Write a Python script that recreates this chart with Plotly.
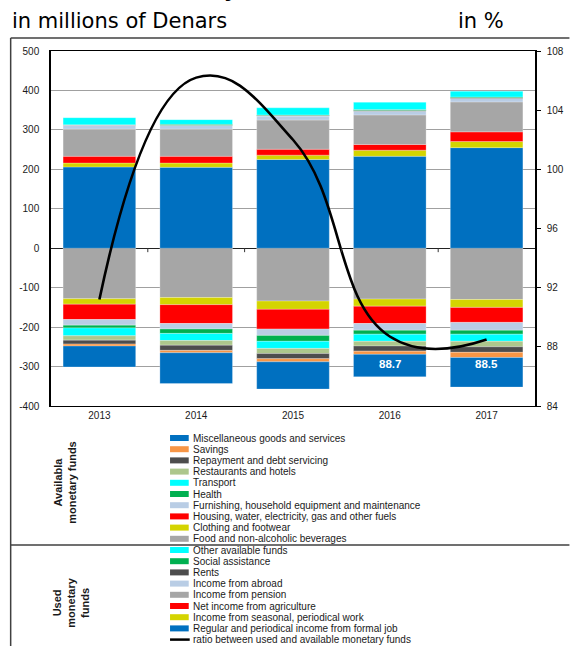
import plotly.graph_objects as go

W, H = 576, 646
ML, MR, MT, MB = 51, 33, 51, 240

years = [2013, 2014, 2015, 2016, 2017]

# Used monetary funds (drawn below zero), in millions of Denars
food = [-128, -125, -134, -129, -130]
clothing = [-14, -18, -21, -18, -20]
housing = [-39, -48, -50, -44, -38]
furnishing = [-14, -14, -16, -17, -20]
health = [-7, -11, -15, -10, -10]
transport = [-20, -18, -18, -18, -18]
restaurants = [-11, -12, -13, -12, -14]
repayment = [-10, -13, -13, -13, -14]
savings = [-5, -6, -8, -8, -13]
misc = [-53, -78, -69, -57, -75]

# Available monetary funds (drawn above zero), in millions of Denars
regular = [206, 205, 225, 233, 255]
seasonal = [10, 11, 11, 15.5, 15.5]
agriculture = [17, 17, 15, 14.5, 24.5]
pension = [69, 69, 74, 75, 76]
abroad = [10, 9, 10, 9, 8.5]
rents = [0.5, 1, 1.5, 2, 2]
social = [0.5, 2, 1.5, 2.5, 2]
other = [18, 12, 18, 18.5, 14.5]

# Ratio between used and available monetary funds, in %
ratio = [91.2, 106.2, 102.0, 88.7, 88.5]
labelled_years = [2016, 2017]

# axis ticks
left_ticks = [500, 400, 300, 200, 100, 0, -100, -200, -300, -400]
right_ticks = [108, 104, 100, 96, 92, 88, 84]

# stacking order: first entry sits next to the zero line
neg_series = [
    ("Food and non-alcoholic beverages", food, "#A6A6A6"),
    ("Clothing and footwear", clothing, "#D4D400"),
    ("Housing, water, electricity, gas and other fuels", housing, "#FF0000"),
    ("Furnishing, household equipment and maintenance", furnishing, "#B9CDE5"),
    ("Health", health, "#00B050"),
    ("Transport", transport, "#00FFFF"),
    ("Restaurants and hotels", restaurants, "#ADC78C"),
    ("Repayment and debt servicing", repayment, "#4D4D4D"),
    ("Savings", savings, "#F79646"),
    ("Miscellaneous goods and services", misc, "#0070C0"),
]
pos_series = [
    ("Regular and periodical income from formal job", regular, "#0070C0"),
    ("Income from seasonal, periodical work", seasonal, "#D4D400"),
    ("Net income from agriculture", agriculture, "#FF0000"),
    ("Income from pension", pension, "#A6A6A6"),
    ("Income from abroad", abroad, "#B9CDE5"),
    ("Rents", rents, "#4D4D4D"),
    ("Social assistance", social, "#00B050"),
    ("Other available funds", other, "#00FFFF"),
]
ratio_name = "ratio between used and available monetary funds"

FONT = "Liberation Sans, Arial, sans-serif"
TXT = "#1a1a1a"

fig = go.Figure()
for name, vals, col in neg_series + pos_series:
    fig.add_trace(go.Bar(
        x=years, y=vals, name=name, marker_color=col,
        marker_line=dict(color="rgba(255,255,255,0.5)", width=0.5),
        showlegend=False,
    ))

fig.add_trace(go.Scatter(
    x=years, y=ratio, name=ratio_name, yaxis="y2", mode="lines",
    line=dict(color="black", width=2.6, shape="spline", smoothing=1.3),
    showlegend=False,
))


def px_x(px):
    return (px - ML) / (W - ML - MR)


def px_y(py):
    return (H - MB - py) / (H - MT - MB)


shapes = []
annotations = []

# ratio labels inside the lower bars
for yr in labelled_years:
    annotations.append(dict(
        x=yr, y=-293, xref="x", yref="y", text=f"{ratio[years.index(yr)]:.1f}",
        showarrow=False, font=dict(family=FONT, size=11.5, color="white", weight="bold"),
    ))

# small category separators on the zero line
for k in range(len(years) - 1):
    xm = (years[k] + years[k + 1]) / 2
    shapes.append(dict(type="line", xref="x", yref="y", x0=xm, x1=xm, y0=0, y1=-10,
                       line=dict(color="#333333", width=1)))

# header texts
annotations += [
    dict(x=px_x(7), y=px_y(3), xref="paper", yref="paper", xanchor="left", yanchor="bottom",
         text="Available monetary funds", showarrow=False,
         font=dict(family=FONT, size=25, color="black", weight="bold")),
    dict(x=px_x(9), y=px_y(21), xref="paper", yref="paper", xanchor="left", yanchor="middle",
         text="in millions of Denars", showarrow=False,
         font=dict(family="DejaVu Sans", size=21, color="black")),
    dict(x=px_x(514), y=px_y(21), xref="paper", yref="paper", xanchor="right", yanchor="middle",
         text="in %", showarrow=False,
         font=dict(family="DejaVu Sans", size=21, color="black")),
]

# outer frame lines
frame = dict(color="#404040", width=1.5)
shapes += [
    dict(type="line", xref="paper", yref="paper", x0=px_x(10), x1=px_x(10),
         y0=px_y(38), y1=px_y(H + 2), line=frame),
    dict(type="line", xref="paper", yref="paper", x0=px_x(10), x1=px_x(W + 2),
         y0=px_y(38), y1=px_y(38), line=frame),
    dict(type="line", xref="paper", yref="paper", x0=px_x(10), x1=px_x(W + 2),
         y0=px_y(545), y1=px_y(545), line=frame),
]

# hand-built legend
legend_items = [(n, c) for n, _, c in reversed(neg_series)] + \
               [(n, c) for n, _, c in reversed(pos_series)]
y0, step = 438, 11.2
for i, (name, col) in enumerate(legend_items):
    yc = y0 + i * step
    shapes.append(dict(type="rect", xref="paper", yref="paper",
                       x0=px_x(172), x1=px_x(191), y0=px_y(yc - 3), y1=px_y(yc + 3),
                       fillcolor=col, line=dict(width=0)))
    annotations.append(dict(x=px_x(193), y=px_y(yc), xref="paper", yref="paper",
                            xanchor="left", yanchor="middle", text=name, showarrow=False,
                            font=dict(family=FONT, size=10, color=TXT)))
yc = y0 + len(legend_items) * step
shapes.append(dict(type="line", xref="paper", yref="paper", x0=px_x(172), x1=px_x(192),
                   y0=px_y(yc), y1=px_y(yc), line=dict(color="black", width=2.5)))
annotations.append(dict(x=px_x(193), y=px_y(yc), xref="paper", yref="paper",
                        xanchor="left", yanchor="middle", text=ratio_name, showarrow=False,
                        font=dict(family=FONT, size=10, color=TXT)))

# legend group captions
annotations += [
    dict(x=px_x(65), y=px_y(482), xref="paper", yref="paper", xanchor="center",
         yanchor="middle", text="Availabla<br>monetary funds",
         textangle=-90, showarrow=False,
         font=dict(family=FONT, size=11, color=TXT, weight="bold")),
    dict(x=px_x(71), y=px_y(603), xref="paper", yref="paper", xanchor="center",
         yanchor="middle", text="Used<br>monetary<br>funds",
         textangle=-90, showarrow=False,
         font=dict(family=FONT, size=11, color=TXT, weight="bold")),
]

fig.update_layout(
    width=W, height=H,
    margin=dict(l=ML, r=MR, t=MT, b=MB, pad=0),
    paper_bgcolor="white", plot_bgcolor="white",
    barmode="relative", bargap=0.25,
    font=dict(family=FONT, size=10, color=TXT),
    xaxis=dict(
        range=[2012.5, 2017.5], tickvals=years, ticktext=[str(y) for y in years],
        showline=True, linecolor="black", linewidth=1, mirror=True,
        showgrid=False, zeroline=False, ticks="", tickfont=dict(size=10),
    ),
    yaxis=dict(
        range=[-400, 500], tickvals=left_ticks, ticktext=[str(v) for v in left_ticks],
        showline=True, linecolor="black", linewidth=1.5,
        showgrid=True, gridcolor="#A0A0A0", gridwidth=1,
        zeroline=True, zerolinecolor="#222222", zerolinewidth=1.2,
        ticks="", ticklabelstandoff=8, tickfont=dict(size=10),
    ),
    yaxis2=dict(
        range=[84, 108], tickvals=right_ticks, ticktext=[str(v) for v in right_ticks],
        overlaying="y", side="right",
        showline=True, linecolor="black", linewidth=1.5, showgrid=False, zeroline=False,
        ticks="outside", ticklen=4, tickcolor="black", ticklabelstandoff=4,
        tickfont=dict(size=10),
    ),
    shapes=shapes, annotations=annotations,
)

fig.write_html("out.html")
